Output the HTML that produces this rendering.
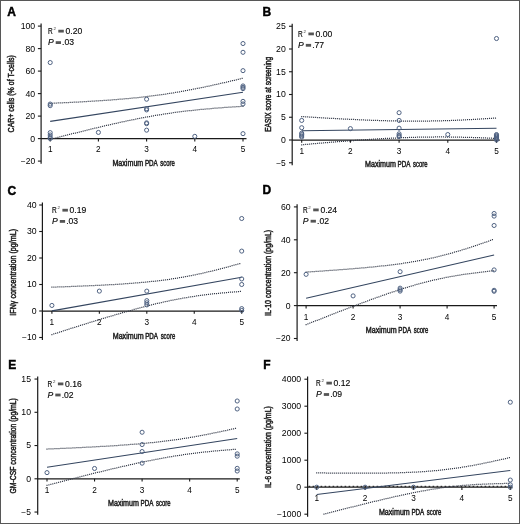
<!DOCTYPE html>
<html><head><meta charset="utf-8"><style>
html,body{margin:0;padding:0;background:#fff;}
body{width:520px;height:524px;overflow:hidden;}
svg{display:block;will-change:transform;filter:blur(0.3px);font-family:"Liberation Sans",sans-serif;}
</style></head><body>
<svg width="520" height="524" viewBox="0 0 520 524">
<rect x="0" y="0" width="520" height="524" fill="#fff"/>
<g>
<text x="7.3" y="15.9" font-size="12" font-weight="bold" fill="#000" stroke="#000" stroke-width="0.45">A</text>
<line x1="41.1" y1="23.5" x2="41.1" y2="163.7" stroke="#1a1a1a" stroke-width="1.2"/>
<line x1="37.9" y1="161.1" x2="41.1" y2="161.1" stroke="#1a1a1a" stroke-width="1.1"/>
<text x="35.2" y="164" font-size="8.2" text-anchor="end" textLength="14.5" lengthAdjust="spacingAndGlyphs">−20</text>
<line x1="37.9" y1="138.6" x2="41.1" y2="138.6" stroke="#1a1a1a" stroke-width="1.1"/>
<text x="35.2" y="141.5" font-size="8.2" text-anchor="end" textLength="4.85" lengthAdjust="spacingAndGlyphs">0</text>
<line x1="37.9" y1="116.1" x2="41.1" y2="116.1" stroke="#1a1a1a" stroke-width="1.1"/>
<text x="35.2" y="119" font-size="8.2" text-anchor="end" textLength="9.7" lengthAdjust="spacingAndGlyphs">20</text>
<line x1="37.9" y1="93.6" x2="41.1" y2="93.6" stroke="#1a1a1a" stroke-width="1.1"/>
<text x="35.2" y="96.5" font-size="8.2" text-anchor="end" textLength="9.7" lengthAdjust="spacingAndGlyphs">40</text>
<line x1="37.9" y1="71.1" x2="41.1" y2="71.1" stroke="#1a1a1a" stroke-width="1.1"/>
<text x="35.2" y="74" font-size="8.2" text-anchor="end" textLength="9.7" lengthAdjust="spacingAndGlyphs">60</text>
<line x1="37.9" y1="48.6" x2="41.1" y2="48.6" stroke="#1a1a1a" stroke-width="1.1"/>
<text x="35.2" y="51.5" font-size="8.2" text-anchor="end" textLength="9.7" lengthAdjust="spacingAndGlyphs">80</text>
<line x1="37.9" y1="26.1" x2="41.1" y2="26.1" stroke="#1a1a1a" stroke-width="1.1"/>
<text x="35.2" y="29" font-size="8.2" text-anchor="end" textLength="14.55" lengthAdjust="spacingAndGlyphs">100</text>
<line x1="41.1" y1="138.6" x2="246.5" y2="138.6" stroke="#1a1a1a" stroke-width="1.25"/>
<line x1="50.2" y1="138.6" x2="50.2" y2="141.4" stroke="#1a1a1a" stroke-width="1.1"/>
<text x="50.2" y="151.9" font-size="8.2" text-anchor="middle" textLength="4.6" lengthAdjust="spacingAndGlyphs">1</text>
<line x1="98.4" y1="138.6" x2="98.4" y2="141.4" stroke="#1a1a1a" stroke-width="1.1"/>
<text x="98.4" y="151.9" font-size="8.2" text-anchor="middle" textLength="4.6" lengthAdjust="spacingAndGlyphs">2</text>
<line x1="146.6" y1="138.6" x2="146.6" y2="141.4" stroke="#1a1a1a" stroke-width="1.1"/>
<text x="146.6" y="151.9" font-size="8.2" text-anchor="middle" textLength="4.6" lengthAdjust="spacingAndGlyphs">3</text>
<line x1="194.8" y1="138.6" x2="194.8" y2="141.4" stroke="#1a1a1a" stroke-width="1.1"/>
<text x="194.8" y="151.9" font-size="8.2" text-anchor="middle" textLength="4.6" lengthAdjust="spacingAndGlyphs">4</text>
<line x1="243" y1="138.6" x2="243" y2="141.4" stroke="#1a1a1a" stroke-width="1.1"/>
<text x="243" y="151.9" font-size="8.2" text-anchor="middle" textLength="4.6" lengthAdjust="spacingAndGlyphs">5</text>
<text x="112.4" y="165.8" font-size="9.2" textLength="30.9" lengthAdjust="spacingAndGlyphs" stroke="#262626" stroke-width="0.5">Maximum</text>
<text x="144.9" y="165.8" font-size="9.2" textLength="12.86" lengthAdjust="spacingAndGlyphs" stroke="#262626" stroke-width="0.5">PDA</text>
<text x="160.35" y="165.8" font-size="9.2" textLength="14.55" lengthAdjust="spacingAndGlyphs" stroke="#262626" stroke-width="0.5">score</text>
<text x="14.2" y="132.4" font-size="9.2" textLength="77.3" lengthAdjust="spacingAndGlyphs" transform="rotate(-90 14.2 132.4)" stroke="#262626" stroke-width="0.5">CAR+ cells (% of T-cells)</text>
<text x="48" y="33.75" font-size="8.6" textLength="4.7" lengthAdjust="spacingAndGlyphs" stroke="#262626" stroke-width="0.2">R</text>
<text x="53.4" y="30.25" font-size="4.4" fill="#333">2</text>
<rect x="58.3" y="29.75" width="5.5" height="2.8" fill="#555"/>
<text x="65.5" y="33.75" font-size="8.6" stroke="#262626" stroke-width="0.15">0.20</text>
<text x="47.9" y="45.2" font-size="8.6" font-style="italic" stroke="#262626" stroke-width="0.15">P</text>
<rect x="55.7" y="41.2" width="5.3" height="2.8" fill="#555"/>
<text x="62.1" y="45.2" font-size="8.6" stroke="#262626" stroke-width="0.15">.03</text>
<path d="M49.65 103.33h1.1M51.65 103.25h1.1M53.65 103.16h1.1M55.64 103.07h1.1M57.64 102.98h1.1M59.64 102.89h1.1M61.64 102.8h1.1M63.64 102.71h1.1M65.63 102.61h1.1M67.63 102.52h1.1M69.63 102.42h1.1M71.63 102.32h1.1M73.62 102.22h1.1M75.62 102.12h1.1M77.62 102.01h1.1M79.62 101.9h1.1M81.61 101.8h1.1M83.61 101.69h1.1M85.61 101.57h1.1M87.6 101.46h1.1M89.6 101.34h1.1M91.6 101.22h1.1M93.59 101.1h1.1M95.59 100.98h1.1M97.58 100.85h1.1M99.58 100.72h1.1M101.58 100.58h1.1M103.57 100.45h1.1M105.57 100.31h1.1M107.56 100.17h1.1M109.56 100.02h1.1M111.55 99.87h1.1M113.54 99.72h1.1M115.54 99.56h1.1M117.53 99.4h1.1M119.53 99.24h1.1M121.52 99.07h1.1M123.51 98.89h1.1M125.5 98.72h1.1M127.49 98.53h1.1M129.49 98.35h1.1M131.48 98.15h1.1M133.47 97.96h1.1M135.46 97.75h1.1M137.45 97.55h1.1M139.43 97.33h1.1M141.42 97.11h1.1M143.41 96.89h1.1M145.4 96.66h1.1M147.38 96.42h1.1M149.37 96.18h1.1M151.35 95.93h1.1M153.34 95.67h1.1M155.32 95.41h1.1M157.3 95.14h1.1M159.28 94.87h1.1M161.26 94.59h1.1M163.24 94.3h1.1M165.22 94.01h1.1M167.2 93.71h1.1M169.17 93.4h1.1M171.15 93.09h1.1M173.12 92.77h1.1M175.1 92.44h1.1M177.07 92.11h1.1M179.04 91.77h1.1M181.01 91.42h1.1M182.98 91.07h1.1M184.95 90.72h1.1M186.91 90.36h1.1M188.88 89.99h1.1M190.84 89.61h1.1M192.81 89.23h1.1M194.77 88.85h1.1M196.73 88.46h1.1M198.69 88.06h1.1M200.65 87.66h1.1M202.61 87.26h1.1M204.57 86.85h1.1M206.52 86.44h1.1M208.48 86.02h1.1M210.43 85.6h1.1M212.39 85.17h1.1M214.34 84.74h1.1M216.29 84.31h1.1M218.25 83.87h1.1M220.2 83.43h1.1M222.15 82.99h1.1M224.1 82.54h1.1M226.05 82.09h1.1M227.99 81.64h1.1M229.94 81.18h1.1M231.89 80.72h1.1M233.83 80.26h1.1M235.78 79.8h1.1M237.72 79.33h1.1M239.67 78.86h1.1M241.61 78.39h1.1" fill="none" stroke="#363c4a" stroke-width="1.25"/>
<path d="M49.65 139.44h1.1M51.59 138.94h1.1M53.52 138.44h1.1M55.46 137.94h1.1M57.4 137.44h1.1M59.33 136.94h1.1M61.27 136.45h1.1M63.21 135.95h1.1M65.15 135.46h1.1M67.08 134.96h1.1M69.02 134.47h1.1M70.96 133.98h1.1M72.9 133.49h1.1M74.84 133h1.1M76.78 132.52h1.1M78.72 132.04h1.1M80.66 131.55h1.1M82.6 131.07h1.1M84.55 130.59h1.1M86.49 130.12h1.1M88.43 129.64h1.1M90.37 129.17h1.1M92.32 128.7h1.1M94.26 128.23h1.1M96.21 127.77h1.1M98.15 127.3h1.1M100.1 126.84h1.1M102.05 126.39h1.1M103.99 125.93h1.1M105.94 125.48h1.1M107.89 125.03h1.1M109.84 124.58h1.1M111.79 124.14h1.1M113.74 123.7h1.1M115.69 123.26h1.1M117.65 122.83h1.1M119.6 122.4h1.1M121.55 121.98h1.1M123.51 121.56h1.1M125.47 121.14h1.1M127.42 120.73h1.1M129.38 120.32h1.1M131.34 119.92h1.1M133.3 119.52h1.1M135.26 119.13h1.1M137.22 118.74h1.1M139.18 118.35h1.1M141.15 117.97h1.1M143.11 117.6h1.1M145.08 117.24h1.1M147.05 116.88h1.1M149.02 116.52h1.1M150.98 116.17h1.1M152.95 115.83h1.1M154.93 115.49h1.1M156.9 115.16h1.1M158.87 114.83h1.1M160.85 114.52h1.1M162.82 114.2h1.1M164.8 113.9h1.1M166.78 113.6h1.1M168.76 113.31h1.1M170.73 113.02h1.1M172.71 112.74h1.1M174.7 112.47h1.1M176.68 112.21h1.1M178.66 111.95h1.1M180.65 111.69h1.1M182.63 111.44h1.1M184.62 111.2h1.1M186.6 110.97h1.1M188.59 110.74h1.1M190.58 110.52h1.1M192.56 110.3h1.1M194.55 110.09h1.1M196.54 109.88h1.1M198.53 109.68h1.1M200.52 109.48h1.1M202.51 109.29h1.1M204.5 109.11h1.1M206.5 108.92h1.1M208.49 108.75h1.1M210.48 108.58h1.1M212.47 108.41h1.1M214.47 108.24h1.1M216.46 108.08h1.1M218.45 107.93h1.1M220.45 107.78h1.1M222.44 107.63h1.1M224.44 107.48h1.1M226.43 107.34h1.1M228.43 107.2h1.1M230.42 107.07h1.1M232.42 106.94h1.1M234.42 106.81h1.1M236.41 106.68h1.1M238.41 106.56h1.1M240.4 106.43h1.1M242.4 106.32h1.1" fill="none" stroke="#363c4a" stroke-width="1.25"/>
<line x1="50.2" y1="121.39" x2="243" y2="92.25" stroke="#34455f" stroke-width="1.05"/>
<circle cx="50.2" cy="62.55" r="2.05" fill="none" stroke="#4f6282" stroke-width="1.0"/>
<circle cx="50.2" cy="104.06" r="2.05" fill="none" stroke="#4f6282" stroke-width="1.0"/>
<circle cx="50.2" cy="105.64" r="2.05" fill="none" stroke="#4f6282" stroke-width="1.0"/>
<circle cx="50.2" cy="132.64" r="2.05" fill="none" stroke="#4f6282" stroke-width="1.0"/>
<circle cx="50.2" cy="135" r="2.05" fill="none" stroke="#4f6282" stroke-width="1.0"/>
<circle cx="50.2" cy="137.25" r="2.05" fill="none" stroke="#4f6282" stroke-width="1.0"/>
<circle cx="50.2" cy="138.6" r="2.05" fill="none" stroke="#4f6282" stroke-width="1.0"/>
<circle cx="98.4" cy="132.41" r="2.05" fill="none" stroke="#4f6282" stroke-width="1.0"/>
<circle cx="146.6" cy="99.22" r="2.05" fill="none" stroke="#4f6282" stroke-width="1.0"/>
<circle cx="146.6" cy="108.67" r="2.05" fill="none" stroke="#4f6282" stroke-width="1.0"/>
<circle cx="146.6" cy="109.91" r="2.05" fill="none" stroke="#4f6282" stroke-width="1.0"/>
<circle cx="146.6" cy="122.85" r="2.05" fill="none" stroke="#4f6282" stroke-width="1.0"/>
<circle cx="146.6" cy="123.64" r="2.05" fill="none" stroke="#4f6282" stroke-width="1.0"/>
<circle cx="146.6" cy="130.16" r="2.05" fill="none" stroke="#4f6282" stroke-width="1.0"/>
<circle cx="194.8" cy="136.35" r="2.05" fill="none" stroke="#4f6282" stroke-width="1.0"/>
<circle cx="243" cy="43.54" r="2.05" fill="none" stroke="#4f6282" stroke-width="1.0"/>
<circle cx="243" cy="52.31" r="2.05" fill="none" stroke="#4f6282" stroke-width="1.0"/>
<circle cx="243" cy="70.65" r="2.05" fill="none" stroke="#4f6282" stroke-width="1.0"/>
<circle cx="243" cy="85.95" r="2.05" fill="none" stroke="#4f6282" stroke-width="1.0"/>
<circle cx="243" cy="87.3" r="2.05" fill="none" stroke="#4f6282" stroke-width="1.0"/>
<circle cx="243" cy="88.65" r="2.05" fill="none" stroke="#4f6282" stroke-width="1.0"/>
<circle cx="243" cy="101.36" r="2.05" fill="none" stroke="#4f6282" stroke-width="1.0"/>
<circle cx="243" cy="103.95" r="2.05" fill="none" stroke="#4f6282" stroke-width="1.0"/>
<circle cx="243" cy="133.65" r="2.05" fill="none" stroke="#4f6282" stroke-width="1.0"/>
</g>
<g>
<text x="262.5" y="15.6" font-size="12" font-weight="bold" fill="#000" stroke="#000" stroke-width="0.45">B</text>
<line x1="292.2" y1="23.65" x2="292.2" y2="165.35" stroke="#1a1a1a" stroke-width="1.2"/>
<line x1="289" y1="162.75" x2="292.2" y2="162.75" stroke="#1a1a1a" stroke-width="1.1"/>
<text x="285.8" y="165.65" font-size="8.2" text-anchor="end" textLength="9.65" lengthAdjust="spacingAndGlyphs">−5</text>
<line x1="289" y1="140" x2="292.2" y2="140" stroke="#1a1a1a" stroke-width="1.1"/>
<text x="285.8" y="142.9" font-size="8.2" text-anchor="end" textLength="4.85" lengthAdjust="spacingAndGlyphs">0</text>
<line x1="289" y1="117.25" x2="292.2" y2="117.25" stroke="#1a1a1a" stroke-width="1.1"/>
<text x="285.8" y="120.15" font-size="8.2" text-anchor="end" textLength="4.85" lengthAdjust="spacingAndGlyphs">5</text>
<line x1="289" y1="94.5" x2="292.2" y2="94.5" stroke="#1a1a1a" stroke-width="1.1"/>
<text x="285.8" y="97.4" font-size="8.2" text-anchor="end" textLength="9.7" lengthAdjust="spacingAndGlyphs">10</text>
<line x1="289" y1="71.75" x2="292.2" y2="71.75" stroke="#1a1a1a" stroke-width="1.1"/>
<text x="285.8" y="74.65" font-size="8.2" text-anchor="end" textLength="9.7" lengthAdjust="spacingAndGlyphs">15</text>
<line x1="289" y1="49" x2="292.2" y2="49" stroke="#1a1a1a" stroke-width="1.1"/>
<text x="285.8" y="51.9" font-size="8.2" text-anchor="end" textLength="9.7" lengthAdjust="spacingAndGlyphs">20</text>
<line x1="289" y1="26.25" x2="292.2" y2="26.25" stroke="#1a1a1a" stroke-width="1.1"/>
<text x="285.8" y="29.15" font-size="8.2" text-anchor="end" textLength="9.7" lengthAdjust="spacingAndGlyphs">25</text>
<line x1="292.2" y1="140" x2="499.8" y2="140" stroke="#1a1a1a" stroke-width="1.25"/>
<line x1="301.7" y1="140" x2="301.7" y2="142.8" stroke="#1a1a1a" stroke-width="1.1"/>
<text x="301.7" y="153.8" font-size="8.2" text-anchor="middle" textLength="4.6" lengthAdjust="spacingAndGlyphs">1</text>
<line x1="350.4" y1="140" x2="350.4" y2="142.8" stroke="#1a1a1a" stroke-width="1.1"/>
<text x="350.4" y="153.8" font-size="8.2" text-anchor="middle" textLength="4.6" lengthAdjust="spacingAndGlyphs">2</text>
<line x1="399.1" y1="140" x2="399.1" y2="142.8" stroke="#1a1a1a" stroke-width="1.1"/>
<text x="399.1" y="153.8" font-size="8.2" text-anchor="middle" textLength="4.6" lengthAdjust="spacingAndGlyphs">3</text>
<line x1="447.8" y1="140" x2="447.8" y2="142.8" stroke="#1a1a1a" stroke-width="1.1"/>
<text x="447.8" y="153.8" font-size="8.2" text-anchor="middle" textLength="4.6" lengthAdjust="spacingAndGlyphs">4</text>
<line x1="496.5" y1="140" x2="496.5" y2="142.8" stroke="#1a1a1a" stroke-width="1.1"/>
<text x="496.5" y="153.8" font-size="8.2" text-anchor="middle" textLength="4.6" lengthAdjust="spacingAndGlyphs">5</text>
<text x="365" y="167.2" font-size="9.2" textLength="30.9" lengthAdjust="spacingAndGlyphs" stroke="#262626" stroke-width="0.5">Maximum</text>
<text x="397.5" y="167.2" font-size="9.2" textLength="12.86" lengthAdjust="spacingAndGlyphs" stroke="#262626" stroke-width="0.5">PDA</text>
<text x="412.95" y="167.2" font-size="9.2" textLength="14.55" lengthAdjust="spacingAndGlyphs" stroke="#262626" stroke-width="0.5">score</text>
<text x="270.6" y="131.8" font-size="9.2" textLength="75" lengthAdjust="spacingAndGlyphs" transform="rotate(-90 270.6 131.8)" stroke="#262626" stroke-width="0.5">EASIX score at screening</text>
<text x="298.1" y="36.5" font-size="8.6" textLength="4.7" lengthAdjust="spacingAndGlyphs" stroke="#262626" stroke-width="0.2">R</text>
<text x="303.5" y="33" font-size="4.4" fill="#333">2</text>
<rect x="308.4" y="32.5" width="5.5" height="2.8" fill="#555"/>
<text x="315.6" y="36.5" font-size="8.6" stroke="#262626" stroke-width="0.15">0.00</text>
<text x="298" y="47.9" font-size="8.6" font-style="italic" stroke="#262626" stroke-width="0.15">P</text>
<rect x="305.8" y="43.9" width="5.3" height="2.8" fill="#555"/>
<text x="312.2" y="47.9" font-size="8.6" stroke="#262626" stroke-width="0.15">.77</text>
<path d="M301.15 116.57h1.1M303.15 116.69h1.1M305.14 116.82h1.1M307.14 116.94h1.1M309.13 117.07h1.1M311.13 117.19h1.1M313.13 117.31h1.1M315.12 117.43h1.1M317.12 117.55h1.1M319.12 117.67h1.1M321.11 117.79h1.1M323.11 117.9h1.1M325.11 118.02h1.1M327.1 118.13h1.1M329.1 118.25h1.1M331.1 118.36h1.1M333.09 118.47h1.1M335.09 118.58h1.1M337.09 118.69h1.1M339.08 118.79h1.1M341.08 118.9h1.1M343.08 119h1.1M345.08 119.1h1.1M347.07 119.2h1.1M349.07 119.3h1.1M351.07 119.4h1.1M353.07 119.49h1.1M355.06 119.59h1.1M357.06 119.68h1.1M359.06 119.77h1.1M361.06 119.85h1.1M363.06 119.94h1.1M365.06 120.02h1.1M367.05 120.1h1.1M369.05 120.18h1.1M371.05 120.26h1.1M373.05 120.33h1.1M375.05 120.4h1.1M377.05 120.47h1.1M379.05 120.53h1.1M381.05 120.59h1.1M383.04 120.65h1.1M385.04 120.71h1.1M387.04 120.76h1.1M389.04 120.81h1.1M391.04 120.86h1.1M393.04 120.9h1.1M395.04 120.94h1.1M397.04 120.98h1.1M399.04 121.01h1.1M401.04 121.04h1.1M403.04 121.07h1.1M405.04 121.09h1.1M407.04 121.1h1.1M409.04 121.12h1.1M411.04 121.13h1.1M413.04 121.13h1.1M415.04 121.13h1.1M417.04 121.13h1.1M419.04 121.12h1.1M421.04 121.11h1.1M423.04 121.1h1.1M425.04 121.08h1.1M427.04 121.05h1.1M429.04 121.03h1.1M431.04 120.99h1.1M433.04 120.96h1.1M435.04 120.92h1.1M437.04 120.87h1.1M439.04 120.82h1.1M441.04 120.77h1.1M443.04 120.71h1.1M445.03 120.65h1.1M447.03 120.58h1.1M449.03 120.51h1.1M451.03 120.44h1.1M453.03 120.36h1.1M455.03 120.28h1.1M457.03 120.2h1.1M459.02 120.11h1.1M461.02 120.02h1.1M463.02 119.92h1.1M465.02 119.82h1.1M467.01 119.72h1.1M469.01 119.62h1.1M471.01 119.51h1.1M473.01 119.4h1.1M475 119.28h1.1M477 119.17h1.1M479 119.05h1.1M480.99 118.92h1.1M482.99 118.8h1.1M484.98 118.67h1.1M486.98 118.54h1.1M488.98 118.41h1.1M490.97 118.28h1.1M492.97 118.14h1.1M494.96 118h1.1" fill="none" stroke="#363c4a" stroke-width="1.25"/>
<path d="M301.15 144.78h1.1M303.14 144.6h1.1M305.13 144.42h1.1M307.13 144.25h1.1M309.12 144.08h1.1M311.11 143.9h1.1M313.1 143.73h1.1M315.1 143.56h1.1M317.09 143.39h1.1M319.08 143.22h1.1M321.08 143.05h1.1M323.07 142.88h1.1M325.06 142.71h1.1M327.05 142.55h1.1M329.05 142.39h1.1M331.04 142.22h1.1M333.03 142.06h1.1M335.03 141.9h1.1M337.02 141.74h1.1M339.02 141.58h1.1M341.01 141.43h1.1M343 141.27h1.1M345 141.12h1.1M346.99 140.97h1.1M348.99 140.82h1.1M350.98 140.67h1.1M352.98 140.52h1.1M354.97 140.38h1.1M356.96 140.24h1.1M358.96 140.1h1.1M360.96 139.96h1.1M362.95 139.82h1.1M364.95 139.69h1.1M366.94 139.56h1.1M368.94 139.43h1.1M370.93 139.3h1.1M372.93 139.18h1.1M374.93 139.05h1.1M376.92 138.94h1.1M378.92 138.82h1.1M380.92 138.71h1.1M382.91 138.59h1.1M384.91 138.49h1.1M386.91 138.38h1.1M388.9 138.28h1.1M390.9 138.18h1.1M392.9 138.09h1.1M394.9 138h1.1M396.9 137.91h1.1M398.89 137.82h1.1M400.89 137.74h1.1M402.89 137.67h1.1M404.89 137.59h1.1M406.89 137.53h1.1M408.89 137.46h1.1M410.89 137.4h1.1M412.89 137.34h1.1M414.88 137.29h1.1M416.88 137.24h1.1M418.88 137.2h1.1M420.88 137.15h1.1M422.88 137.12h1.1M424.88 137.09h1.1M426.88 137.06h1.1M428.88 137.04h1.1M430.88 137.02h1.1M432.88 137h1.1M434.88 136.99h1.1M436.88 136.98h1.1M438.88 136.98h1.1M440.88 136.98h1.1M442.88 136.99h1.1M444.88 137h1.1M446.88 137.01h1.1M448.88 137.03h1.1M450.88 137.05h1.1M452.88 137.08h1.1M454.88 137.11h1.1M456.88 137.14h1.1M458.88 137.18h1.1M460.88 137.22h1.1M462.88 137.26h1.1M464.88 137.31h1.1M466.88 137.36h1.1M468.88 137.41h1.1M470.88 137.47h1.1M472.88 137.53h1.1M474.88 137.59h1.1M476.87 137.66h1.1M478.87 137.72h1.1M480.87 137.8h1.1M482.87 137.87h1.1M484.87 137.94h1.1M486.87 138.02h1.1M488.87 138.1h1.1M490.86 138.19h1.1M492.86 138.27h1.1M494.86 138.36h1.1" fill="none" stroke="#363c4a" stroke-width="1.25"/>
<line x1="301.7" y1="130.67" x2="496.5" y2="128.17" stroke="#34455f" stroke-width="1.05"/>
<circle cx="301.7" cy="120.44" r="2.05" fill="none" stroke="#4f6282" stroke-width="1.0"/>
<circle cx="301.7" cy="127.72" r="2.05" fill="none" stroke="#4f6282" stroke-width="1.0"/>
<circle cx="301.7" cy="133.18" r="2.05" fill="none" stroke="#4f6282" stroke-width="1.0"/>
<circle cx="301.7" cy="134.54" r="2.05" fill="none" stroke="#4f6282" stroke-width="1.0"/>
<circle cx="301.7" cy="135.91" r="2.05" fill="none" stroke="#4f6282" stroke-width="1.0"/>
<circle cx="301.7" cy="137.04" r="2.05" fill="none" stroke="#4f6282" stroke-width="1.0"/>
<circle cx="350.4" cy="128.62" r="2.05" fill="none" stroke="#4f6282" stroke-width="1.0"/>
<circle cx="399.1" cy="112.7" r="2.05" fill="none" stroke="#4f6282" stroke-width="1.0"/>
<circle cx="399.1" cy="120.44" r="2.05" fill="none" stroke="#4f6282" stroke-width="1.0"/>
<circle cx="399.1" cy="128.17" r="2.05" fill="none" stroke="#4f6282" stroke-width="1.0"/>
<circle cx="399.1" cy="133.86" r="2.05" fill="none" stroke="#4f6282" stroke-width="1.0"/>
<circle cx="399.1" cy="135.45" r="2.05" fill="none" stroke="#4f6282" stroke-width="1.0"/>
<circle cx="399.1" cy="136.59" r="2.05" fill="none" stroke="#4f6282" stroke-width="1.0"/>
<circle cx="447.8" cy="134.54" r="2.05" fill="none" stroke="#4f6282" stroke-width="1.0"/>
<circle cx="496.5" cy="38.53" r="2.05" fill="none" stroke="#4f6282" stroke-width="1.0"/>
<circle cx="496.5" cy="134.54" r="2.05" fill="none" stroke="#4f6282" stroke-width="1.0"/>
<circle cx="496.5" cy="135.45" r="2.05" fill="none" stroke="#4f6282" stroke-width="1.0"/>
<circle cx="496.5" cy="136.36" r="2.05" fill="none" stroke="#4f6282" stroke-width="1.0"/>
<circle cx="496.5" cy="137.27" r="2.05" fill="none" stroke="#4f6282" stroke-width="1.0"/>
<circle cx="496.5" cy="138.18" r="2.05" fill="none" stroke="#4f6282" stroke-width="1.0"/>
<circle cx="496.5" cy="139.09" r="2.05" fill="none" stroke="#4f6282" stroke-width="1.0"/>
<circle cx="496.5" cy="140" r="2.05" fill="none" stroke="#4f6282" stroke-width="1.0"/>
</g>
<g>
<text x="7.6" y="194.7" font-size="12" font-weight="bold" fill="#000" stroke="#000" stroke-width="0.45">C</text>
<line x1="42.4" y1="202.4" x2="42.4" y2="340.1" stroke="#1a1a1a" stroke-width="1.2"/>
<line x1="39.2" y1="337.5" x2="42.4" y2="337.5" stroke="#1a1a1a" stroke-width="1.1"/>
<text x="36.6" y="340.4" font-size="8.2" text-anchor="end" textLength="14.5" lengthAdjust="spacingAndGlyphs">−10</text>
<line x1="39.2" y1="311" x2="42.4" y2="311" stroke="#1a1a1a" stroke-width="1.1"/>
<text x="36.6" y="313.9" font-size="8.2" text-anchor="end" textLength="4.85" lengthAdjust="spacingAndGlyphs">0</text>
<line x1="39.2" y1="284.5" x2="42.4" y2="284.5" stroke="#1a1a1a" stroke-width="1.1"/>
<text x="36.6" y="287.4" font-size="8.2" text-anchor="end" textLength="9.7" lengthAdjust="spacingAndGlyphs">10</text>
<line x1="39.2" y1="258" x2="42.4" y2="258" stroke="#1a1a1a" stroke-width="1.1"/>
<text x="36.6" y="260.9" font-size="8.2" text-anchor="end" textLength="9.7" lengthAdjust="spacingAndGlyphs">20</text>
<line x1="39.2" y1="231.5" x2="42.4" y2="231.5" stroke="#1a1a1a" stroke-width="1.1"/>
<text x="36.6" y="234.4" font-size="8.2" text-anchor="end" textLength="9.7" lengthAdjust="spacingAndGlyphs">30</text>
<line x1="39.2" y1="205" x2="42.4" y2="205" stroke="#1a1a1a" stroke-width="1.1"/>
<text x="36.6" y="207.9" font-size="8.2" text-anchor="end" textLength="9.7" lengthAdjust="spacingAndGlyphs">40</text>
<line x1="42.4" y1="311" x2="244" y2="311" stroke="#1a1a1a" stroke-width="1.25"/>
<line x1="51.9" y1="311" x2="51.9" y2="313.8" stroke="#1a1a1a" stroke-width="1.1"/>
<text x="51.9" y="324.6" font-size="8.2" text-anchor="middle" textLength="4.6" lengthAdjust="spacingAndGlyphs">1</text>
<line x1="99.35" y1="311" x2="99.35" y2="313.8" stroke="#1a1a1a" stroke-width="1.1"/>
<text x="99.35" y="324.6" font-size="8.2" text-anchor="middle" textLength="4.6" lengthAdjust="spacingAndGlyphs">2</text>
<line x1="146.8" y1="311" x2="146.8" y2="313.8" stroke="#1a1a1a" stroke-width="1.1"/>
<text x="146.8" y="324.6" font-size="8.2" text-anchor="middle" textLength="4.6" lengthAdjust="spacingAndGlyphs">3</text>
<line x1="194.25" y1="311" x2="194.25" y2="313.8" stroke="#1a1a1a" stroke-width="1.1"/>
<text x="194.25" y="324.6" font-size="8.2" text-anchor="middle" textLength="4.6" lengthAdjust="spacingAndGlyphs">4</text>
<line x1="241.7" y1="311" x2="241.7" y2="313.8" stroke="#1a1a1a" stroke-width="1.1"/>
<text x="241.7" y="324.6" font-size="8.2" text-anchor="middle" textLength="4.6" lengthAdjust="spacingAndGlyphs">5</text>
<text x="112.7" y="338.7" font-size="9.2" textLength="30.9" lengthAdjust="spacingAndGlyphs" stroke="#262626" stroke-width="0.5">Maximum</text>
<text x="145.2" y="338.7" font-size="9.2" textLength="12.86" lengthAdjust="spacingAndGlyphs" stroke="#262626" stroke-width="0.5">PDA</text>
<text x="160.65" y="338.7" font-size="9.2" textLength="14.55" lengthAdjust="spacingAndGlyphs" stroke="#262626" stroke-width="0.5">score</text>
<text x="15.9" y="315.7" font-size="9.2" textLength="86.8" lengthAdjust="spacingAndGlyphs" transform="rotate(-90 15.9 315.7)" stroke="#262626" stroke-width="0.5">IFNγ concentration (pg/mL)</text>
<text x="52.1" y="212.8" font-size="8.6" textLength="4.7" lengthAdjust="spacingAndGlyphs" stroke="#262626" stroke-width="0.2">R</text>
<text x="57.5" y="209.3" font-size="4.4" fill="#333">2</text>
<rect x="62.4" y="208.8" width="5.5" height="2.8" fill="#555"/>
<text x="69.6" y="212.8" font-size="8.6" stroke="#262626" stroke-width="0.15">0.19</text>
<text x="52" y="224" font-size="8.6" font-style="italic" stroke="#262626" stroke-width="0.15">P</text>
<rect x="59.8" y="220" width="5.3" height="2.8" fill="#555"/>
<text x="66.2" y="224" font-size="8.6" stroke="#262626" stroke-width="0.15">.03</text>
<path d="M51.35 287.15h1.1M53.35 287.09h1.1M55.35 287.02h1.1M57.35 286.95h1.1M59.35 286.89h1.1M61.34 286.82h1.1M63.34 286.75h1.1M65.34 286.68h1.1M67.34 286.6h1.1M69.34 286.53h1.1M71.34 286.46h1.1M73.34 286.38h1.1M75.34 286.31h1.1M77.33 286.23h1.1M79.33 286.15h1.1M81.33 286.07h1.1M83.33 285.98h1.1M85.33 285.9h1.1M87.32 285.81h1.1M89.32 285.73h1.1M91.32 285.64h1.1M93.32 285.54h1.1M95.32 285.45h1.1M97.31 285.35h1.1M99.31 285.26h1.1M101.31 285.16h1.1M103.31 285.05h1.1M105.3 284.95h1.1M107.3 284.84h1.1M109.3 284.73h1.1M111.29 284.62h1.1M113.29 284.5h1.1M115.29 284.38h1.1M117.28 284.26h1.1M119.28 284.13h1.1M121.28 284h1.1M123.27 283.87h1.1M125.27 283.73h1.1M127.26 283.59h1.1M129.26 283.44h1.1M131.25 283.29h1.1M133.24 283.13h1.1M135.24 282.97h1.1M137.23 282.81h1.1M139.22 282.63h1.1M141.22 282.46h1.1M143.21 282.27h1.1M145.2 282.08h1.1M147.19 281.89h1.1M149.18 281.69h1.1M151.17 281.48h1.1M153.16 281.26h1.1M155.14 281.04h1.1M157.13 280.81h1.1M159.12 280.57h1.1M161.1 280.32h1.1M163.08 280.07h1.1M165.07 279.8h1.1M167.05 279.53h1.1M169.03 279.25h1.1M171.01 278.96h1.1M172.98 278.66h1.1M174.96 278.35h1.1M176.93 278.03h1.1M178.91 277.7h1.1M180.88 277.37h1.1M182.85 277.02h1.1M184.82 276.67h1.1M186.78 276.3h1.1M188.75 275.93h1.1M190.71 275.54h1.1M192.67 275.15h1.1M194.63 274.75h1.1M196.59 274.34h1.1M198.55 273.92h1.1M200.5 273.5h1.1M202.45 273.06h1.1M204.4 272.62h1.1M206.35 272.17h1.1M208.3 271.71h1.1M210.24 271.25h1.1M212.19 270.78h1.1M214.13 270.3h1.1M216.07 269.81h1.1M218.01 269.32h1.1M219.94 268.82h1.1M221.88 268.32h1.1M223.81 267.81h1.1M225.75 267.3h1.1M227.68 266.78h1.1M229.61 266.26h1.1M231.54 265.73h1.1M233.47 265.2h1.1M235.39 264.66h1.1M237.32 264.12h1.1M239.24 263.58h1.1" fill="none" stroke="#363c4a" stroke-width="1.25"/>
<path d="M51.35 334.58h1.1M53.25 333.97h1.1M55.16 333.36h1.1M57.06 332.75h1.1M58.97 332.14h1.1M60.87 331.53h1.1M62.78 330.92h1.1M64.68 330.31h1.1M66.59 329.7h1.1M68.49 329.09h1.1M70.4 328.49h1.1M72.3 327.88h1.1M74.21 327.28h1.1M76.12 326.68h1.1M78.03 326.08h1.1M79.93 325.47h1.1M81.84 324.88h1.1M83.75 324.28h1.1M85.66 323.68h1.1M87.57 323.09h1.1M89.48 322.49h1.1M91.39 321.9h1.1M93.3 321.31h1.1M95.21 320.72h1.1M97.12 320.14h1.1M99.04 319.55h1.1M100.95 318.97h1.1M102.86 318.39h1.1M104.78 317.81h1.1M106.69 317.23h1.1M108.61 316.66h1.1M110.53 316.09h1.1M112.44 315.52h1.1M114.36 314.95h1.1M116.28 314.39h1.1M118.2 313.83h1.1M120.12 313.27h1.1M122.04 312.72h1.1M123.96 312.17h1.1M125.89 311.62h1.1M127.81 311.07h1.1M129.74 310.53h1.1M131.66 310h1.1M133.59 309.46h1.1M135.52 308.94h1.1M137.45 308.41h1.1M139.38 307.9h1.1M141.32 307.38h1.1M143.25 306.87h1.1M145.19 306.37h1.1M147.12 305.88h1.1M149.06 305.38h1.1M151 304.9h1.1M152.95 304.42h1.1M154.89 303.95h1.1M156.83 303.49h1.1M158.78 303.03h1.1M160.73 302.58h1.1M162.68 302.13h1.1M164.63 301.7h1.1M166.59 301.28h1.1M168.54 300.86h1.1M170.5 300.45h1.1M172.46 300.05h1.1M174.42 299.65h1.1M176.38 299.27h1.1M178.35 298.9h1.1M180.32 298.53h1.1M182.28 298.18h1.1M184.25 297.83h1.1M186.23 297.5h1.1M188.2 297.17h1.1M190.17 296.85h1.1M192.15 296.54h1.1M194.13 296.25h1.1M196.11 295.95h1.1M198.09 295.67h1.1M200.07 295.4h1.1M202.05 295.14h1.1M204.03 294.88h1.1M206.02 294.64h1.1M208 294.4h1.1M209.99 294.17h1.1M211.98 293.94h1.1M213.97 293.73h1.1M215.96 293.52h1.1M217.94 293.32h1.1M219.94 293.12h1.1M221.93 292.93h1.1M223.92 292.75h1.1M225.91 292.57h1.1M227.9 292.4h1.1M229.9 292.24h1.1M231.89 292.07h1.1M233.88 291.92h1.1M235.88 291.77h1.1M237.87 291.62h1.1M239.87 291.48h1.1" fill="none" stroke="#363c4a" stroke-width="1.25"/>
<line x1="51.9" y1="310.87" x2="241.7" y2="277.21" stroke="#34455f" stroke-width="1.05"/>
<circle cx="51.9" cy="305.44" r="2.05" fill="none" stroke="#4f6282" stroke-width="1.0"/>
<circle cx="99.35" cy="291.12" r="2.05" fill="none" stroke="#4f6282" stroke-width="1.0"/>
<circle cx="146.8" cy="291.12" r="2.05" fill="none" stroke="#4f6282" stroke-width="1.0"/>
<circle cx="146.8" cy="300.67" r="2.05" fill="none" stroke="#4f6282" stroke-width="1.0"/>
<circle cx="146.8" cy="302.79" r="2.05" fill="none" stroke="#4f6282" stroke-width="1.0"/>
<circle cx="146.8" cy="304.9" r="2.05" fill="none" stroke="#4f6282" stroke-width="1.0"/>
<circle cx="241.7" cy="218.51" r="2.05" fill="none" stroke="#4f6282" stroke-width="1.0"/>
<circle cx="241.7" cy="251.11" r="2.05" fill="none" stroke="#4f6282" stroke-width="1.0"/>
<circle cx="241.7" cy="278.94" r="2.05" fill="none" stroke="#4f6282" stroke-width="1.0"/>
<circle cx="241.7" cy="284.5" r="2.05" fill="none" stroke="#4f6282" stroke-width="1.0"/>
<circle cx="241.7" cy="308.62" r="2.05" fill="none" stroke="#4f6282" stroke-width="1.0"/>
<circle cx="241.7" cy="310.47" r="2.05" fill="none" stroke="#4f6282" stroke-width="1.0"/>
</g>
<g>
<text x="262.6" y="194.3" font-size="12" font-weight="bold" fill="#000" stroke="#000" stroke-width="0.45">D</text>
<line x1="297.1" y1="204.3" x2="297.1" y2="341.1" stroke="#1a1a1a" stroke-width="1.2"/>
<line x1="293.9" y1="338.5" x2="297.1" y2="338.5" stroke="#1a1a1a" stroke-width="1.1"/>
<text x="290.6" y="341.4" font-size="8.2" text-anchor="end" textLength="14.5" lengthAdjust="spacingAndGlyphs">−20</text>
<line x1="293.9" y1="305.6" x2="297.1" y2="305.6" stroke="#1a1a1a" stroke-width="1.1"/>
<text x="290.6" y="308.5" font-size="8.2" text-anchor="end" textLength="4.85" lengthAdjust="spacingAndGlyphs">0</text>
<line x1="293.9" y1="272.7" x2="297.1" y2="272.7" stroke="#1a1a1a" stroke-width="1.1"/>
<text x="290.6" y="275.6" font-size="8.2" text-anchor="end" textLength="9.7" lengthAdjust="spacingAndGlyphs">20</text>
<line x1="293.9" y1="239.8" x2="297.1" y2="239.8" stroke="#1a1a1a" stroke-width="1.1"/>
<text x="290.6" y="242.7" font-size="8.2" text-anchor="end" textLength="9.7" lengthAdjust="spacingAndGlyphs">40</text>
<line x1="293.9" y1="206.9" x2="297.1" y2="206.9" stroke="#1a1a1a" stroke-width="1.1"/>
<text x="290.6" y="209.8" font-size="8.2" text-anchor="end" textLength="9.7" lengthAdjust="spacingAndGlyphs">60</text>
<line x1="297.1" y1="305.6" x2="497" y2="305.6" stroke="#1a1a1a" stroke-width="1.25"/>
<line x1="306.1" y1="305.6" x2="306.1" y2="308.4" stroke="#1a1a1a" stroke-width="1.1"/>
<text x="306.1" y="319.6" font-size="8.2" text-anchor="middle" textLength="4.6" lengthAdjust="spacingAndGlyphs">1</text>
<line x1="353.1" y1="305.6" x2="353.1" y2="308.4" stroke="#1a1a1a" stroke-width="1.1"/>
<text x="353.1" y="319.6" font-size="8.2" text-anchor="middle" textLength="4.6" lengthAdjust="spacingAndGlyphs">2</text>
<line x1="400.1" y1="305.6" x2="400.1" y2="308.4" stroke="#1a1a1a" stroke-width="1.1"/>
<text x="400.1" y="319.6" font-size="8.2" text-anchor="middle" textLength="4.6" lengthAdjust="spacingAndGlyphs">3</text>
<line x1="447.1" y1="305.6" x2="447.1" y2="308.4" stroke="#1a1a1a" stroke-width="1.1"/>
<text x="447.1" y="319.6" font-size="8.2" text-anchor="middle" textLength="4.6" lengthAdjust="spacingAndGlyphs">4</text>
<line x1="494.1" y1="305.6" x2="494.1" y2="308.4" stroke="#1a1a1a" stroke-width="1.1"/>
<text x="494.1" y="319.6" font-size="8.2" text-anchor="middle" textLength="4.6" lengthAdjust="spacingAndGlyphs">5</text>
<text x="365.8" y="333.2" font-size="9.2" textLength="30.9" lengthAdjust="spacingAndGlyphs" stroke="#262626" stroke-width="0.5">Maximum</text>
<text x="398.3" y="333.2" font-size="9.2" textLength="12.86" lengthAdjust="spacingAndGlyphs" stroke="#262626" stroke-width="0.5">PDA</text>
<text x="413.75" y="333.2" font-size="9.2" textLength="14.55" lengthAdjust="spacingAndGlyphs" stroke="#262626" stroke-width="0.5">score</text>
<text x="270.7" y="316" font-size="9.2" textLength="86.2" lengthAdjust="spacingAndGlyphs" transform="rotate(-90 270.7 316)" stroke="#262626" stroke-width="0.5">IL-10 concentration (pg/mL)</text>
<text x="302.9" y="212.5" font-size="8.6" textLength="4.7" lengthAdjust="spacingAndGlyphs" stroke="#262626" stroke-width="0.2">R</text>
<text x="308.3" y="209" font-size="4.4" fill="#333">2</text>
<rect x="313.2" y="208.5" width="5.5" height="2.8" fill="#555"/>
<text x="320.4" y="212.5" font-size="8.6" stroke="#262626" stroke-width="0.15">0.24</text>
<text x="302.8" y="223.8" font-size="8.6" font-style="italic" stroke="#262626" stroke-width="0.15">P</text>
<rect x="310.6" y="219.8" width="5.3" height="2.8" fill="#555"/>
<text x="317" y="223.8" font-size="8.6" stroke="#262626" stroke-width="0.15">.02</text>
<path d="M305.55 272.04h1.1M307.55 271.92h1.1M309.54 271.79h1.1M311.54 271.66h1.1M313.53 271.53h1.1M315.53 271.4h1.1M317.52 271.27h1.1M319.52 271.13h1.1M321.52 271h1.1M323.51 270.86h1.1M325.51 270.73h1.1M327.5 270.59h1.1M329.5 270.45h1.1M331.49 270.31h1.1M333.49 270.16h1.1M335.48 270.02h1.1M337.48 269.87h1.1M339.47 269.72h1.1M341.47 269.57h1.1M343.46 269.42h1.1M345.45 269.27h1.1M347.45 269.11h1.1M349.44 268.95h1.1M351.43 268.79h1.1M353.43 268.63h1.1M355.42 268.46h1.1M357.41 268.29h1.1M359.41 268.12h1.1M361.4 267.94h1.1M363.39 267.76h1.1M365.38 267.58h1.1M367.37 267.4h1.1M369.36 267.21h1.1M371.36 267.02h1.1M373.35 266.82h1.1M375.34 266.62h1.1M377.32 266.41h1.1M379.31 266.2h1.1M381.3 265.99h1.1M383.29 265.77h1.1M385.28 265.54h1.1M387.26 265.31h1.1M389.25 265.07h1.1M391.23 264.83h1.1M393.22 264.58h1.1M395.2 264.32h1.1M397.19 264.06h1.1M399.17 263.79h1.1M401.15 263.51h1.1M403.13 263.22h1.1M405.1 262.93h1.1M407.08 262.62h1.1M409.06 262.31h1.1M411.03 261.99h1.1M413 261.65h1.1M414.97 261.31h1.1M416.94 260.96h1.1M418.91 260.6h1.1M420.87 260.23h1.1M422.84 259.84h1.1M424.8 259.45h1.1M426.76 259.04h1.1M428.71 258.63h1.1M430.67 258.2h1.1M432.62 257.76h1.1M434.57 257.32h1.1M436.51 256.85h1.1M438.46 256.38h1.1M440.4 255.9h1.1M442.34 255.41h1.1M444.27 254.91h1.1M446.21 254.39h1.1M448.14 253.87h1.1M450.06 253.34h1.1M451.99 252.79h1.1M453.91 252.24h1.1M455.83 251.68h1.1M457.75 251.11h1.1M459.66 250.54h1.1M461.57 249.95h1.1M463.49 249.36h1.1M465.39 248.76h1.1M467.3 248.15h1.1M469.2 247.54h1.1M471.1 246.91h1.1M473 246.29h1.1M474.9 245.66h1.1M476.79 245.02h1.1M478.69 244.37h1.1M480.58 243.72h1.1M482.47 243.07h1.1M484.36 242.41h1.1M486.25 241.75h1.1M488.13 241.08h1.1M490.02 240.41h1.1M491.9 239.74h1.1" fill="none" stroke="#363c4a" stroke-width="1.25"/>
<path d="M305.55 324.68h1.1M307.41 323.94h1.1M309.27 323.2h1.1M311.12 322.46h1.1M312.98 321.72h1.1M314.84 320.99h1.1M316.7 320.25h1.1M318.56 319.52h1.1M320.42 318.78h1.1M322.28 318.05h1.1M324.14 317.31h1.1M326 316.58h1.1M327.87 315.85h1.1M329.73 315.12h1.1M331.59 314.39h1.1M333.45 313.67h1.1M335.32 312.94h1.1M337.18 312.22h1.1M339.05 311.49h1.1M340.91 310.77h1.1M342.78 310.05h1.1M344.64 309.33h1.1M346.51 308.62h1.1M348.38 307.9h1.1M350.25 307.19h1.1M352.12 306.48h1.1M353.99 305.77h1.1M355.86 305.06h1.1M357.73 304.35h1.1M359.6 303.65h1.1M361.47 302.95h1.1M363.35 302.25h1.1M365.22 301.56h1.1M367.1 300.86h1.1M368.98 300.17h1.1M370.86 299.49h1.1M372.74 298.8h1.1M374.62 298.12h1.1M376.5 297.45h1.1M378.38 296.77h1.1M380.27 296.1h1.1M382.15 295.44h1.1M384.04 294.78h1.1M385.93 294.12h1.1M387.82 293.47h1.1M389.71 292.82h1.1M391.61 292.18h1.1M393.5 291.55h1.1M395.4 290.92h1.1M397.3 290.29h1.1M399.2 289.67h1.1M401.11 289.06h1.1M403.01 288.46h1.1M404.92 287.86h1.1M406.83 287.27h1.1M408.75 286.69h1.1M410.66 286.12h1.1M412.58 285.55h1.1M414.5 284.99h1.1M416.43 284.45h1.1M418.35 283.91h1.1M420.28 283.38h1.1M422.21 282.86h1.1M424.15 282.35h1.1M426.08 281.85h1.1M428.02 281.36h1.1M429.97 280.89h1.1M431.91 280.42h1.1M433.86 279.97h1.1M435.81 279.52h1.1M437.76 279.09h1.1M439.72 278.67h1.1M441.67 278.25h1.1M443.63 277.86h1.1M445.59 277.47h1.1M447.56 277.09h1.1M449.52 276.72h1.1M451.49 276.36h1.1M453.46 276.01h1.1M455.43 275.68h1.1M457.41 275.35h1.1M459.38 275.03h1.1M461.36 274.72h1.1M463.33 274.42h1.1M465.31 274.13h1.1M467.29 273.85h1.1M469.27 273.57h1.1M471.26 273.3h1.1M473.24 273.04h1.1M475.22 272.79h1.1M477.21 272.54h1.1M479.19 272.3h1.1M481.18 272.07h1.1M483.17 271.84h1.1M485.15 271.61h1.1M487.14 271.4h1.1M489.13 271.18h1.1M491.12 270.97h1.1M493.11 270.77h1.1" fill="none" stroke="#363c4a" stroke-width="1.25"/>
<line x1="306.1" y1="298.36" x2="494.1" y2="254.93" stroke="#34455f" stroke-width="1.05"/>
<circle cx="306.1" cy="274.35" r="2.05" fill="none" stroke="#4f6282" stroke-width="1.0"/>
<circle cx="353.1" cy="295.89" r="2.05" fill="none" stroke="#4f6282" stroke-width="1.0"/>
<circle cx="400.1" cy="271.71" r="2.05" fill="none" stroke="#4f6282" stroke-width="1.0"/>
<circle cx="400.1" cy="288.16" r="2.05" fill="none" stroke="#4f6282" stroke-width="1.0"/>
<circle cx="400.1" cy="289.81" r="2.05" fill="none" stroke="#4f6282" stroke-width="1.0"/>
<circle cx="400.1" cy="291.12" r="2.05" fill="none" stroke="#4f6282" stroke-width="1.0"/>
<circle cx="494.1" cy="213.48" r="2.05" fill="none" stroke="#4f6282" stroke-width="1.0"/>
<circle cx="494.1" cy="216.11" r="2.05" fill="none" stroke="#4f6282" stroke-width="1.0"/>
<circle cx="494.1" cy="225.49" r="2.05" fill="none" stroke="#4f6282" stroke-width="1.0"/>
<circle cx="494.1" cy="269.9" r="2.05" fill="none" stroke="#4f6282" stroke-width="1.0"/>
<circle cx="494.1" cy="290.3" r="2.05" fill="none" stroke="#4f6282" stroke-width="1.0"/>
<circle cx="494.1" cy="291.29" r="2.05" fill="none" stroke="#4f6282" stroke-width="1.0"/>
</g>
<g>
<text x="8.3" y="368.5" font-size="12" font-weight="bold" fill="#000" stroke="#000" stroke-width="0.45">E</text>
<line x1="37.7" y1="376.45" x2="37.7" y2="514.65" stroke="#1a1a1a" stroke-width="1.2"/>
<line x1="34.5" y1="512.05" x2="37.7" y2="512.05" stroke="#1a1a1a" stroke-width="1.1"/>
<text x="31" y="514.95" font-size="8.2" text-anchor="end" textLength="9.65" lengthAdjust="spacingAndGlyphs">−5</text>
<line x1="34.5" y1="478.8" x2="37.7" y2="478.8" stroke="#1a1a1a" stroke-width="1.1"/>
<text x="31" y="481.7" font-size="8.2" text-anchor="end" textLength="4.85" lengthAdjust="spacingAndGlyphs">0</text>
<line x1="34.5" y1="445.55" x2="37.7" y2="445.55" stroke="#1a1a1a" stroke-width="1.1"/>
<text x="31" y="448.45" font-size="8.2" text-anchor="end" textLength="4.85" lengthAdjust="spacingAndGlyphs">5</text>
<line x1="34.5" y1="412.3" x2="37.7" y2="412.3" stroke="#1a1a1a" stroke-width="1.1"/>
<text x="31" y="415.2" font-size="8.2" text-anchor="end" textLength="9.7" lengthAdjust="spacingAndGlyphs">10</text>
<line x1="34.5" y1="379.05" x2="37.7" y2="379.05" stroke="#1a1a1a" stroke-width="1.1"/>
<text x="31" y="381.95" font-size="8.2" text-anchor="end" textLength="9.7" lengthAdjust="spacingAndGlyphs">15</text>
<line x1="37.7" y1="478.8" x2="239.8" y2="478.8" stroke="#1a1a1a" stroke-width="1.25"/>
<line x1="47" y1="478.8" x2="47" y2="481.6" stroke="#1a1a1a" stroke-width="1.1"/>
<text x="47" y="492.6" font-size="8.2" text-anchor="middle" textLength="4.6" lengthAdjust="spacingAndGlyphs">1</text>
<line x1="94.55" y1="478.8" x2="94.55" y2="481.6" stroke="#1a1a1a" stroke-width="1.1"/>
<text x="94.55" y="492.6" font-size="8.2" text-anchor="middle" textLength="4.6" lengthAdjust="spacingAndGlyphs">2</text>
<line x1="142.1" y1="478.8" x2="142.1" y2="481.6" stroke="#1a1a1a" stroke-width="1.1"/>
<text x="142.1" y="492.6" font-size="8.2" text-anchor="middle" textLength="4.6" lengthAdjust="spacingAndGlyphs">3</text>
<line x1="189.65" y1="478.8" x2="189.65" y2="481.6" stroke="#1a1a1a" stroke-width="1.1"/>
<text x="189.65" y="492.6" font-size="8.2" text-anchor="middle" textLength="4.6" lengthAdjust="spacingAndGlyphs">4</text>
<line x1="237.2" y1="478.8" x2="237.2" y2="481.6" stroke="#1a1a1a" stroke-width="1.1"/>
<text x="237.2" y="492.6" font-size="8.2" text-anchor="middle" textLength="4.6" lengthAdjust="spacingAndGlyphs">5</text>
<text x="108" y="506.2" font-size="9.2" textLength="30.9" lengthAdjust="spacingAndGlyphs" stroke="#262626" stroke-width="0.5">Maximum</text>
<text x="140.5" y="506.2" font-size="9.2" textLength="12.86" lengthAdjust="spacingAndGlyphs" stroke="#262626" stroke-width="0.5">PDA</text>
<text x="155.95" y="506.2" font-size="9.2" textLength="14.55" lengthAdjust="spacingAndGlyphs" stroke="#262626" stroke-width="0.5">score</text>
<text x="16.5" y="493.6" font-size="9.2" textLength="95.5" lengthAdjust="spacingAndGlyphs" transform="rotate(-90 16.5 493.6)" stroke="#262626" stroke-width="0.5">GM-CSF concentration (pg/mL)</text>
<text x="47.6" y="386.5" font-size="8.6" textLength="4.7" lengthAdjust="spacingAndGlyphs" stroke="#262626" stroke-width="0.2">R</text>
<text x="53" y="383" font-size="4.4" fill="#333">2</text>
<rect x="57.9" y="382.5" width="5.5" height="2.8" fill="#555"/>
<text x="65.1" y="386.5" font-size="8.6" stroke="#262626" stroke-width="0.15">0.16</text>
<text x="47.5" y="397.6" font-size="8.6" font-style="italic" stroke="#262626" stroke-width="0.15">P</text>
<rect x="55.3" y="393.6" width="5.3" height="2.8" fill="#555"/>
<text x="61.7" y="397.6" font-size="8.6" stroke="#262626" stroke-width="0.15">.02</text>
<path d="M46.45 449.07h1.1M48.45 448.99h1.1M50.45 448.91h1.1M52.44 448.82h1.1M54.44 448.74h1.1M56.44 448.65h1.1M58.44 448.56h1.1M60.44 448.47h1.1M62.44 448.39h1.1M64.43 448.3h1.1M66.43 448.21h1.1M68.43 448.11h1.1M70.43 448.02h1.1M72.42 447.93h1.1M74.42 447.83h1.1M76.42 447.74h1.1M78.42 447.64h1.1M80.42 447.54h1.1M82.41 447.44h1.1M84.41 447.34h1.1M86.41 447.24h1.1M88.41 447.14h1.1M90.4 447.03h1.1M92.4 446.93h1.1M94.4 446.82h1.1M96.39 446.71h1.1M98.39 446.6h1.1M100.39 446.48h1.1M102.38 446.37h1.1M104.38 446.25h1.1M106.38 446.13h1.1M108.37 446.01h1.1M110.37 445.89h1.1M112.37 445.76h1.1M114.36 445.63h1.1M116.36 445.5h1.1M118.35 445.37h1.1M120.35 445.23h1.1M122.34 445.09h1.1M124.34 444.94h1.1M126.33 444.8h1.1M128.33 444.65h1.1M130.32 444.49h1.1M132.31 444.34h1.1M134.31 444.18h1.1M136.3 444.01h1.1M138.29 443.84h1.1M140.29 443.67h1.1M142.28 443.49h1.1M144.27 443.31h1.1M146.26 443.12h1.1M148.25 442.92h1.1M150.24 442.72h1.1M152.23 442.52h1.1M154.22 442.31h1.1M156.21 442.1h1.1M158.2 441.87h1.1M160.18 441.65h1.1M162.17 441.41h1.1M164.16 441.17h1.1M166.14 440.92h1.1M168.12 440.67h1.1M170.11 440.41h1.1M172.09 440.14h1.1M174.07 439.87h1.1M176.05 439.59h1.1M178.03 439.3h1.1M180.01 439h1.1M181.98 438.7h1.1M183.96 438.39h1.1M185.94 438.08h1.1M187.91 437.75h1.1M189.88 437.43h1.1M191.85 437.09h1.1M193.82 436.75h1.1M195.79 436.4h1.1M197.76 436.04h1.1M199.73 435.68h1.1M201.69 435.31h1.1M203.66 434.94h1.1M205.62 434.56h1.1M207.59 434.17h1.1M209.55 433.78h1.1M211.51 433.39h1.1M213.47 432.99h1.1M215.43 432.59h1.1M217.38 432.18h1.1M219.34 431.76h1.1M221.3 431.34h1.1M223.25 430.92h1.1M225.2 430.5h1.1M227.16 430.07h1.1M229.11 429.63h1.1M231.06 429.2h1.1M233.01 428.76h1.1M234.96 428.31h1.1" fill="none" stroke="#363c4a" stroke-width="1.25"/>
<path d="M46.45 485.25h1.1M48.39 484.75h1.1M50.32 484.25h1.1M52.26 483.75h1.1M54.2 483.25h1.1M56.13 482.75h1.1M58.07 482.25h1.1M60.01 481.75h1.1M61.94 481.26h1.1M63.88 480.76h1.1M65.82 480.27h1.1M67.76 479.77h1.1M69.7 479.28h1.1M71.63 478.79h1.1M73.57 478.3h1.1M75.51 477.81h1.1M77.45 477.32h1.1M79.39 476.83h1.1M81.33 476.34h1.1M83.27 475.85h1.1M85.21 475.37h1.1M87.15 474.88h1.1M89.09 474.4h1.1M91.03 473.92h1.1M92.97 473.44h1.1M94.92 472.96h1.1M96.86 472.49h1.1M98.8 472.01h1.1M100.74 471.54h1.1M102.69 471.06h1.1M104.63 470.59h1.1M106.58 470.13h1.1M108.52 469.66h1.1M110.47 469.2h1.1M112.41 468.73h1.1M114.36 468.28h1.1M116.31 467.82h1.1M118.25 467.36h1.1M120.2 466.91h1.1M122.15 466.46h1.1M124.1 466.02h1.1M126.05 465.57h1.1M128 465.13h1.1M129.95 464.69h1.1M131.91 464.26h1.1M133.86 463.83h1.1M135.81 463.4h1.1M137.77 462.98h1.1M139.72 462.56h1.1M141.68 462.15h1.1M143.64 461.74h1.1M145.6 461.33h1.1M147.56 460.93h1.1M149.52 460.54h1.1M151.48 460.15h1.1M153.44 459.76h1.1M155.4 459.38h1.1M157.37 459.01h1.1M159.33 458.64h1.1M161.3 458.28h1.1M163.27 457.92h1.1M165.24 457.57h1.1M167.21 457.23h1.1M169.18 456.89h1.1M171.15 456.56h1.1M173.13 456.24h1.1M175.1 455.92h1.1M177.08 455.61h1.1M179.05 455.31h1.1M181.03 455.01h1.1M183.01 454.72h1.1M184.99 454.44h1.1M186.97 454.16h1.1M188.95 453.89h1.1M190.94 453.63h1.1M192.92 453.38h1.1M194.9 453.13h1.1M196.89 452.89h1.1M198.88 452.66h1.1M200.86 452.43h1.1M202.85 452.2h1.1M204.84 451.99h1.1M206.83 451.78h1.1M208.82 451.57h1.1M210.81 451.37h1.1M212.8 451.18h1.1M214.79 450.99h1.1M216.78 450.81h1.1M218.77 450.63h1.1M220.76 450.45h1.1M222.76 450.28h1.1M224.75 450.12h1.1M226.74 449.96h1.1M228.74 449.8h1.1M230.73 449.64h1.1M232.73 449.49h1.1M234.72 449.35h1.1" fill="none" stroke="#363c4a" stroke-width="1.25"/>
<line x1="47" y1="467.16" x2="237.2" y2="438.57" stroke="#34455f" stroke-width="1.05"/>
<circle cx="47" cy="472.62" r="2.05" fill="none" stroke="#4f6282" stroke-width="1.0"/>
<circle cx="94.55" cy="468.49" r="2.05" fill="none" stroke="#4f6282" stroke-width="1.0"/>
<circle cx="142.1" cy="432.25" r="2.05" fill="none" stroke="#4f6282" stroke-width="1.0"/>
<circle cx="142.1" cy="444.55" r="2.05" fill="none" stroke="#4f6282" stroke-width="1.0"/>
<circle cx="142.1" cy="451.54" r="2.05" fill="none" stroke="#4f6282" stroke-width="1.0"/>
<circle cx="142.1" cy="463.17" r="2.05" fill="none" stroke="#4f6282" stroke-width="1.0"/>
<circle cx="237.2" cy="401" r="2.05" fill="none" stroke="#4f6282" stroke-width="1.0"/>
<circle cx="237.2" cy="408.98" r="2.05" fill="none" stroke="#4f6282" stroke-width="1.0"/>
<circle cx="237.2" cy="453.86" r="2.05" fill="none" stroke="#4f6282" stroke-width="1.0"/>
<circle cx="237.2" cy="456.19" r="2.05" fill="none" stroke="#4f6282" stroke-width="1.0"/>
<circle cx="237.2" cy="468.36" r="2.05" fill="none" stroke="#4f6282" stroke-width="1.0"/>
<circle cx="237.2" cy="471.02" r="2.05" fill="none" stroke="#4f6282" stroke-width="1.0"/>
</g>
<g>
<text x="263.2" y="368.5" font-size="12" font-weight="bold" fill="#000" stroke="#000" stroke-width="0.45">F</text>
<line x1="307.6" y1="376.6" x2="307.6" y2="516.8" stroke="#1a1a1a" stroke-width="1.2"/>
<line x1="304.4" y1="514.2" x2="307.6" y2="514.2" stroke="#1a1a1a" stroke-width="1.1"/>
<text x="301.2" y="517.1" font-size="8.2" text-anchor="end" textLength="24.2" lengthAdjust="spacingAndGlyphs">−1000</text>
<line x1="304.4" y1="487.2" x2="307.6" y2="487.2" stroke="#1a1a1a" stroke-width="1.1"/>
<text x="301.2" y="490.1" font-size="8.2" text-anchor="end" textLength="4.85" lengthAdjust="spacingAndGlyphs">0</text>
<line x1="304.4" y1="460.2" x2="307.6" y2="460.2" stroke="#1a1a1a" stroke-width="1.1"/>
<text x="301.2" y="463.1" font-size="8.2" text-anchor="end" textLength="19.4" lengthAdjust="spacingAndGlyphs">1000</text>
<line x1="304.4" y1="433.2" x2="307.6" y2="433.2" stroke="#1a1a1a" stroke-width="1.1"/>
<text x="301.2" y="436.1" font-size="8.2" text-anchor="end" textLength="19.4" lengthAdjust="spacingAndGlyphs">2000</text>
<line x1="304.4" y1="406.2" x2="307.6" y2="406.2" stroke="#1a1a1a" stroke-width="1.1"/>
<text x="301.2" y="409.1" font-size="8.2" text-anchor="end" textLength="19.4" lengthAdjust="spacingAndGlyphs">3000</text>
<line x1="304.4" y1="379.2" x2="307.6" y2="379.2" stroke="#1a1a1a" stroke-width="1.1"/>
<text x="301.2" y="382.1" font-size="8.2" text-anchor="end" textLength="19.4" lengthAdjust="spacingAndGlyphs">4000</text>
<line x1="307.6" y1="487.2" x2="512.2" y2="487.2" stroke="#1a1a1a" stroke-width="1.25"/>
<line x1="308.6" y1="486.3" x2="512.2" y2="486.3" stroke="#111" stroke-width="1" stroke-dasharray="1.6 2.4"/>
<line x1="316.7" y1="487.2" x2="316.7" y2="490" stroke="#1a1a1a" stroke-width="1.1"/>
<text x="316.7" y="500.8" font-size="8.2" text-anchor="middle" textLength="4.6" lengthAdjust="spacingAndGlyphs">1</text>
<line x1="365.1" y1="487.2" x2="365.1" y2="490" stroke="#1a1a1a" stroke-width="1.1"/>
<text x="365.1" y="500.8" font-size="8.2" text-anchor="middle" textLength="4.6" lengthAdjust="spacingAndGlyphs">2</text>
<line x1="413.5" y1="487.2" x2="413.5" y2="490" stroke="#1a1a1a" stroke-width="1.1"/>
<text x="413.5" y="500.8" font-size="8.2" text-anchor="middle" textLength="4.6" lengthAdjust="spacingAndGlyphs">3</text>
<line x1="461.9" y1="487.2" x2="461.9" y2="490" stroke="#1a1a1a" stroke-width="1.1"/>
<text x="461.9" y="500.8" font-size="8.2" text-anchor="middle" textLength="4.6" lengthAdjust="spacingAndGlyphs">4</text>
<line x1="510.3" y1="487.2" x2="510.3" y2="490" stroke="#1a1a1a" stroke-width="1.1"/>
<text x="510.3" y="500.8" font-size="8.2" text-anchor="middle" textLength="4.6" lengthAdjust="spacingAndGlyphs">5</text>
<text x="378.9" y="514.6" font-size="9.2" textLength="30.9" lengthAdjust="spacingAndGlyphs" stroke="#262626" stroke-width="0.5">Maximum</text>
<text x="411.4" y="514.6" font-size="9.2" textLength="12.86" lengthAdjust="spacingAndGlyphs" stroke="#262626" stroke-width="0.5">PDA</text>
<text x="426.85" y="514.6" font-size="9.2" textLength="14.55" lengthAdjust="spacingAndGlyphs" stroke="#262626" stroke-width="0.5">score</text>
<text x="271" y="488" font-size="9.2" textLength="81.9" lengthAdjust="spacingAndGlyphs" transform="rotate(-90 271 488)" stroke="#262626" stroke-width="0.5">IL-6 concentration (pg/mL)</text>
<text x="316.1" y="385.7" font-size="8.6" textLength="4.7" lengthAdjust="spacingAndGlyphs" stroke="#262626" stroke-width="0.2">R</text>
<text x="321.5" y="382.2" font-size="4.4" fill="#333">2</text>
<rect x="326.4" y="381.7" width="5.5" height="2.8" fill="#555"/>
<text x="333.6" y="385.7" font-size="8.6" stroke="#262626" stroke-width="0.15">0.12</text>
<text x="316" y="397.1" font-size="8.6" font-style="italic" stroke="#262626" stroke-width="0.15">P</text>
<rect x="323.8" y="393.1" width="5.3" height="2.8" fill="#555"/>
<text x="330.2" y="397.1" font-size="8.6" stroke="#262626" stroke-width="0.15">.09</text>
<path d="M316.15 472.89h1.1M318.15 472.91h1.1M320.15 472.94h1.1M322.15 472.96h1.1M324.15 472.99h1.1M326.15 473.01h1.1M328.15 473.03h1.1M330.15 473.05h1.1M332.15 473.07h1.1M334.15 473.09h1.1M336.15 473.1h1.1M338.15 473.12h1.1M340.15 473.13h1.1M342.15 473.15h1.1M344.15 473.16h1.1M346.15 473.17h1.1M348.15 473.18h1.1M350.15 473.19h1.1M352.15 473.2h1.1M354.15 473.2h1.1M356.15 473.21h1.1M358.15 473.21h1.1M360.15 473.21h1.1M362.15 473.21h1.1M364.15 473.21h1.1M366.15 473.2h1.1M368.15 473.2h1.1M370.15 473.19h1.1M372.15 473.18h1.1M374.15 473.16h1.1M376.15 473.15h1.1M378.15 473.13h1.1M380.15 473.1h1.1M382.15 473.08h1.1M384.15 473.05h1.1M386.15 473.02h1.1M388.15 472.99h1.1M390.15 472.95h1.1M392.15 472.9h1.1M394.15 472.86h1.1M396.15 472.81h1.1M398.14 472.75h1.1M400.14 472.69h1.1M402.14 472.63h1.1M404.14 472.56h1.1M406.14 472.49h1.1M408.14 472.41h1.1M410.14 472.32h1.1M412.13 472.23h1.1M414.13 472.13h1.1M416.13 472.02h1.1M418.13 471.91h1.1M420.12 471.79h1.1M422.12 471.66h1.1M424.11 471.53h1.1M426.11 471.38h1.1M428.1 471.23h1.1M430.1 471.07h1.1M432.09 470.9h1.1M434.08 470.72h1.1M436.07 470.53h1.1M438.06 470.33h1.1M440.05 470.13h1.1M442.04 469.91h1.1M444.03 469.68h1.1M446.01 469.44h1.1M448 469.2h1.1M449.98 468.94h1.1M451.96 468.68h1.1M453.94 468.4h1.1M455.92 468.11h1.1M457.9 467.82h1.1M459.88 467.51h1.1M461.85 467.2h1.1M463.83 466.88h1.1M465.8 466.55h1.1M467.77 466.21h1.1M469.74 465.86h1.1M471.71 465.51h1.1M473.68 465.14h1.1M475.64 464.77h1.1M477.61 464.4h1.1M479.57 464.01h1.1M481.53 463.62h1.1M483.49 463.23h1.1M485.45 462.83h1.1M487.41 462.42h1.1M489.36 462.01h1.1M491.32 461.59h1.1M493.28 461.17h1.1M495.23 460.74h1.1M497.18 460.31h1.1M499.13 459.88h1.1M501.09 459.44h1.1M503.04 459h1.1M504.99 458.55h1.1M506.94 458.1h1.1M508.88 457.65h1.1" fill="none" stroke="#363c4a" stroke-width="1.25"/>
<path d="M323.4 514.2h1.1M325.33 513.7h1.1M327.27 513.19h1.1M329.2 512.69h1.1M331.14 512.19h1.1M333.08 511.69h1.1M335.01 511.19h1.1M336.95 510.7h1.1M338.89 510.2h1.1M340.83 509.7h1.1M342.76 509.21h1.1M344.7 508.71h1.1M346.64 508.22h1.1M348.58 507.73h1.1M350.52 507.24h1.1M352.46 506.75h1.1M354.4 506.26h1.1M356.34 505.77h1.1M358.28 505.29h1.1M360.22 504.8h1.1M362.16 504.32h1.1M364.1 503.84h1.1M366.04 503.36h1.1M367.98 502.89h1.1M369.93 502.41h1.1M371.87 501.94h1.1M373.81 501.47h1.1M375.76 501h1.1M377.7 500.54h1.1M379.65 500.07h1.1M381.59 499.61h1.1M383.54 499.15h1.1M385.49 498.7h1.1M387.44 498.25h1.1M389.39 497.8h1.1M391.34 497.35h1.1M393.29 496.91h1.1M395.24 496.47h1.1M397.19 496.04h1.1M399.14 495.61h1.1M401.1 495.18h1.1M403.05 494.76h1.1M405.01 494.34h1.1M406.97 493.93h1.1M408.92 493.53h1.1M410.88 493.12h1.1M412.84 492.73h1.1M414.81 492.34h1.1M416.77 491.96h1.1M418.73 491.58h1.1M420.7 491.21h1.1M422.67 490.85h1.1M424.63 490.5h1.1M426.6 490.15h1.1M428.58 489.82h1.1M430.55 489.49h1.1M432.52 489.17h1.1M434.5 488.85h1.1M436.48 488.55h1.1M438.45 488.26h1.1M440.43 487.97h1.1M442.41 487.7h1.1M444.4 487.43h1.1M446.38 487.18h1.1M448.37 486.93h1.1M450.35 486.7h1.1M452.34 486.47h1.1M454.33 486.26h1.1M456.32 486.05h1.1M458.31 485.85h1.1M460.3 485.67h1.1M462.29 485.49h1.1M464.28 485.32h1.1M466.28 485.16h1.1M468.27 485.01h1.1M470.27 484.87h1.1M472.26 484.73h1.1M474.26 484.61h1.1M476.25 484.49h1.1M478.25 484.38h1.1M480.25 484.27h1.1M482.25 484.17h1.1M484.24 484.08h1.1M486.24 484h1.1M488.24 483.92h1.1M490.24 483.84h1.1M492.24 483.77h1.1M494.24 483.71h1.1M496.24 483.65h1.1M498.23 483.6h1.1M500.23 483.55h1.1M502.23 483.5h1.1M504.23 483.46h1.1M506.23 483.42h1.1M508.23 483.39h1.1" fill="none" stroke="#363c4a" stroke-width="1.25"/>
<line x1="316.7" y1="494.49" x2="510.3" y2="470.41" stroke="#34455f" stroke-width="1.05"/>
<circle cx="316.7" cy="487.2" r="2.05" fill="none" stroke="#4f6282" stroke-width="1.0"/>
<circle cx="365.1" cy="487.2" r="2.05" fill="none" stroke="#4f6282" stroke-width="1.0"/>
<circle cx="413.5" cy="487.2" r="2.05" fill="none" stroke="#4f6282" stroke-width="1.0"/>
<circle cx="510.3" cy="402.2" r="2.05" fill="none" stroke="#4f6282" stroke-width="1.0"/>
<circle cx="510.3" cy="480.05" r="2.05" fill="none" stroke="#4f6282" stroke-width="1.0"/>
<circle cx="510.3" cy="484.77" r="2.05" fill="none" stroke="#4f6282" stroke-width="1.0"/>
<circle cx="510.3" cy="487.2" r="2.05" fill="none" stroke="#4f6282" stroke-width="1.0"/>
</g>
<rect x="0.5" y="0.5" width="519" height="523" fill="none" stroke="#575757" stroke-width="1"/>
</svg>
</body></html>
